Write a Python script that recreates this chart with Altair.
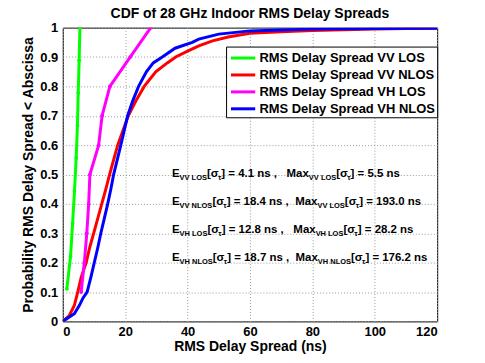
import altair as alt
import pandas as pd

# ---------------- data ----------------
series_names = ["RMS Delay Spread VV LOS", "RMS Delay Spread VV NLOS",
                "RMS Delay Spread VH LOS", "RMS Delay Spread VH NLOS"]
series_colors = ["#00ff00", "#ff0000", "#ff00ff", "#0000ff"]
series_widths = [3, 3, 2.2, 3]

vv_los_delay = [1.3, 2.5, 3.15, 3.75, 4.3, 4.7, 4.95, 5.25, 5.5]
vv_los_prob = [0.111, 0.222, 0.333, 0.444, 0.556, 0.667, 0.778, 0.889, 1.0]

vv_nlos_delay = [0, 2.1, 3.7, 4.8, 5.9, 7.5, 8.6, 9.9, 11.2, 12.5, 13.8, 15.0,
                 17.6, 21.0, 23.4, 26.1, 29.8, 33.5, 36.2, 40.0, 43.6, 48.0,
                 53.0, 60.0, 70.0, 80.0, 90.0, 100.0, 110.0, 120.0, 193.0]
vv_nlos_prob = [0, 0.02, 0.054, 0.10, 0.15, 0.20, 0.25, 0.30, 0.35, 0.40, 0.45,
                0.50, 0.60, 0.70, 0.75, 0.80, 0.85, 0.88, 0.90, 0.92, 0.938,
                0.955, 0.968, 0.981, 0.986, 0.99, 0.993, 0.995, 0.997, 0.998, 1.0]

vh_los_delay = [5.9, 6.9, 7.7, 8.3, 8.7, 11.5, 12.6, 15.1, 21.6, 28.2]
vh_los_prob = [0.1, 0.2, 0.3, 0.4, 0.5, 0.6, 0.7, 0.8, 0.9, 1.0]

vh_nlos_delay = [0, 3.7, 5.3, 6.5, 7.8, 9.0, 10.1, 11.2, 12.2, 13.3, 14.4, 15.4,
                 16.3, 18.6, 20.8, 22.4, 24.3, 26.8, 29.0, 31.9, 36.0, 41.5,
                 43.6, 50.0, 60.0, 70.0, 80.0, 100.0, 120.0, 176.2]
vh_nlos_prob = [0, 0.026, 0.054, 0.08, 0.10, 0.15, 0.20, 0.25, 0.30, 0.35, 0.40,
                0.45, 0.50, 0.60, 0.70, 0.75, 0.80, 0.85, 0.88, 0.90, 0.93, 0.95,
                0.961, 0.978, 0.989, 0.992, 0.995, 0.997, 0.998, 1.0]

x_ticks = [0, 20, 40, 60, 80, 100, 120]
y_ticks = [0, 0.1, 0.2, 0.3, 0.4, 0.5, 0.6, 0.7, 0.8, 0.9, 1]

# annotation text pieces
ann_sub_e = ["VV LOS", "VV NLOS", "VH LOS", "VH NLOS"]
ann_mean = ["4.1", "18.4", "12.8", "18.7"]
ann_sub_max = ["VV LOS", "VV LOS", "VH LOS", "VH NLOS"]
ann_max = ["5.5", "193.0", "28.2", "176.2"]
ann_gap = [3, 2, 3, 2]
ann_prob = [0.493, 0.397, 0.301, 0.205]
ann_delay = 35.0

# ---------------- layout ----------------
PLOT_W, PLOT_H = 376, 295
FONT = "Liberation Sans"
MAIN_SIZE, SUB_SIZE, SUB_DROP = 11.5, 7.5, 3

rows = []
for name, xs, ps in zip(series_names,
                        [vv_los_delay, vv_nlos_delay, vh_los_delay, vh_nlos_delay],
                        [vv_los_prob, vv_nlos_prob, vh_los_prob, vh_nlos_prob]):
    for xv, pv in zip(xs, ps):
        rows.append({"series": name, "delay": xv, "prob": pv})
df = pd.DataFrame(rows)

# approximate Arial-bold advance widths, used to chain text segments
cw = {' ': .278, 'E': .667, '[': .333, ']': .333, 'σ': .62, 'τ': .46, '=': .584,
      '.': .278, ',': .278, 'n': .611, 's': .556, 'M': .833, 'a': .556, 'x': .556,
      'V': .667, 'H': .722, 'L': .611, 'O': .778, 'S': .667, 'N': .722}


def tw(s, size):
    return sum(cw.get(c, .556) for c in s) * size


px_per_ns = PLOT_W / 120.0
px_per_p = PLOT_H / 1.0
ann_rows = []
for i in range(4):
    segs = [("E", False, 0), (ann_sub_e[i], True, 0), ("[σ", False, 0), ("τ", True, 0),
            ("] = " + ann_mean[i] + " ns ,", False, ann_gap[i]), ("Max", False, 0),
            (ann_sub_max[i], True, 0), ("[σ", False, 0), ("τ", True, 0),
            ("] = " + ann_max[i] + " ns", False, 0)]
    cursor = 0.0
    for txt, sub, gap in segs:
        size = SUB_SIZE if sub else MAIN_SIZE
        ann_rows.append({
            "delay": ann_delay + cursor / px_per_ns,
            "prob": ann_prob[i] - (SUB_DROP / px_per_p if sub else 0),
            "t": txt, "s": size})
        cursor += tw(txt, size) + gap * tw(" ", size)
ann = pd.DataFrame(ann_rows)

x_enc = alt.X("delay:Q", scale=alt.Scale(domain=[0, 120], nice=False),
              axis=alt.Axis(values=x_ticks, tickCount=20, title="RMS Delay Spread (ns)",
                            labelPadding=4, titlePadding=1, labelOverlap=False))
y_enc = alt.Y("prob:Q", scale=alt.Scale(domain=[0, 1], nice=False),
              axis=alt.Axis(values=y_ticks, tickCount=20, format="~g",
                            title="Probability RMS Delay Spread < Abscissa",
                            labelPadding=5, titlePadding=4, labelOverlap=False))

color_scale = alt.Scale(domain=series_names, range=series_colors)
color = alt.Color("series:N", sort=series_names, scale=color_scale,
                  legend=alt.Legend(title=None, orient="none", legendX=164, legendY=19,
                                    direction="vertical",
                                    symbolType="M-0.77,0H2.09", symbolSize=289,
                                    symbolStrokeWidth=3,
                                    labelFont=FONT, labelFontSize=13,
                                    labelFontWeight="bold", labelColor="black",
                                    labelLimit=400, labelOffset=12,
                                    rowPadding=0, padding=1.5,
                                    strokeColor="black", fillColor="white"))

lines = alt.Chart(df).mark_line(clip=True).encode(
    x=x_enc, y=y_enc, color=color,
    strokeWidth=alt.StrokeWidth("series:N",
                                scale=alt.Scale(domain=series_names, range=series_widths),
                                legend=None),
    order="delay:Q")

points = alt.Chart(df).transform_filter(
    alt.FieldOneOfPredicate(field="series", oneOf=[series_names[0], series_names[2]])
).mark_point(filled=True, size=14, opacity=1, clip=True).encode(
    x=x_enc, y=y_enc, color=color)

texts = alt.Chart(ann).mark_text(align="left", baseline="alphabetic", font=FONT,
                                 fontWeight="bold", color="black").encode(
    x=x_enc, y=y_enc, text="t:N", size=alt.Size("s:Q", scale=None))

chart = alt.layer(lines, points, texts).properties(
    width=PLOT_W, height=PLOT_H,
    background="white",
    title=alt.TitleParams("CDF of 28 GHz Indoor RMS Delay Spreads", font=FONT,
                          fontSize=14, fontWeight="bold", color="black",
                          anchor="middle", offset=1),
    autosize=alt.AutoSizeParams(type="none"),
    padding={"left": 55, "top": 19, "right": 40, "bottom": 33},
).configure_view(stroke="black", strokeWidth=1).configure_axis(
    labelFont=FONT, labelFontSize=13, labelFontWeight="bold", labelColor="black",
    titleFont=FONT, titleFontSize=14, titleFontWeight="bold", titleColor="black",
    grid=True, gridColor="#9a9a9a", gridDash=[1, 2], gridWidth=1,
    domain=False, ticks=False, labelOverlap=False, tickCount=20
)

chart.save("out.html", embed_options={"renderer": "svg", "actions": False})
